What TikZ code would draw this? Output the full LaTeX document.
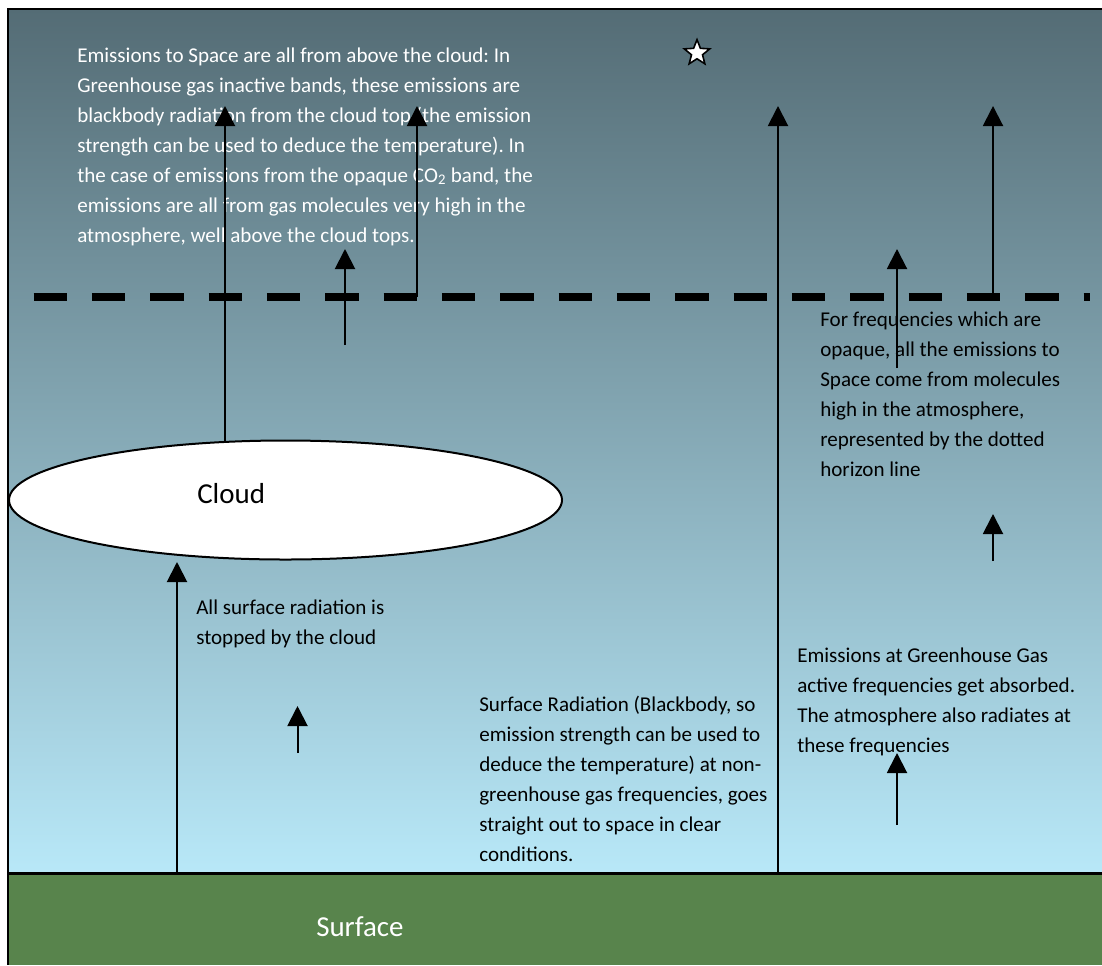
\documentclass[tikz,border=0pt]{standalone}
\usepackage{fontspec}
\setmainfont{Carlito}
\frenchspacing
\usetikzlibrary{arrows.meta,shapes.geometric}
\definecolor{skytop}{RGB}{84,108,117}
\definecolor{skybottom}{RGB}{184,232,248}
\definecolor{grass}{RGB}{88,132,76}

\begin{document}
\begin{tikzpicture}[x=0.75pt, y=-0.75pt,
    ray/.style={line width=1.5pt, -{Triangle[width=15pt,length=15pt]}},
    note/.style={anchor=base west, inner sep=0pt, align=left, font=\fontsize{15.8}{22.5}\selectfont},
    bigword/.style={anchor=base west, inner sep=0pt, font=\fontsize{21.7}{26}\selectfont}]
	\useasboundingbox (0,0) rectangle (1102,965);
	% sky and ground
	\shade[top color=skytop, bottom color=skybottom] (8,9) rectangle (1102,873);
	\fill[grass] (8,873) rectangle (1102,965);
	\draw[line width=1.5pt] (1102,9) -- (8,9) -- (8,965);
	\draw[line width=2.25pt] (8,873) -- (1102,873);
	% texts (placed by the baseline of their last line)
	\node[note, text=white] (spacenote) at (77,242) {Emissions to Space are all from above the cloud: In\\
		Greenhouse gas inactive bands, these emissions are\\
		blackbody radiation from the cloud top (the emission\\
		strength can be used to deduce the temperature). In\\
		the case of emissions from the opaque CO\textsubscript{2} band, the\\
		emissions are all from gas molecules very high in the\\
		atmosphere, well above the cloud tops.};
	\node[note] (opaquenote) at (820,476) {For frequencies which are\\
		opaque, all the emissions to\\
		Space come from molecules\\
		high in the atmosphere,\\
		represented by the dotted\\
		horizon line};
	\node[note] (stopnote) at (196,644) {All surface radiation is\\
		stopped by the cloud};
	\node[note] (clearnote) at (479,861) {Surface Radiation (Blackbody, so\\
		emission strength can be used to\\
		deduce the temperature) at non-\\
		greenhouse gas frequencies, goes\\
		straight out to space in clear\\
		conditions.};
	\node[note] (ghgnote) at (797,752) {Emissions at Greenhouse Gas\\
		active frequencies get absorbed.\\
		The atmosphere also radiates at\\
		these frequencies};
	\node[bigword, text=white] (surface) at (316,936) {Surface};
	% cloud and star
	\node[ellipse, draw, fill=white, line width=1.5pt, inner sep=0pt,
		minimum width=414.75pt, minimum height=89.25pt] (cloud) at (285.5,500) {};
	\node[bigword] (cloudlabel) at (197,503) {Cloud};
	\node[star, star points=5, star point ratio=2.3, draw, fill=white, line width=1.2pt,
		inner sep=0pt, minimum size=20pt] (star) at (697,53) {};
	% horizon
	\coordinate (horizonW) at (33.5,297);
	\coordinate (horizonE) at (1090,297);
	\draw[line width=6pt, dash pattern=on 25pt off 18.75pt] (horizonW) -- (horizonE);
	% rays
	\coordinate (cloudtop) at (225,442);
	\coordinate (cloudtopend) at (225,106);
	\coordinate (midA) at (345,345);
	\coordinate (midAend) at (345,249);
	\coordinate (horizonA) at (417,297);
	\coordinate (horizonAend) at (417,106);
	\coordinate (groundB) at (778,873);
	\coordinate (groundBend) at (778,106);
	\coordinate (horizonC) at (993,297);
	\coordinate (horizonCend) at (993,106);
	\coordinate (midC) at (897,368);
	\coordinate (midCend) at (897,249);
	\coordinate (lowC) at (993,561);
	\coordinate (lowCend) at (993,514);
	\coordinate (lowD) at (897,825);
	\coordinate (lowDend) at (897,753);
	\coordinate (lowA) at (297.5,753);
	\coordinate (lowAend) at (297.5,706);
	\coordinate (groundA) at (177,873);
	\coordinate (groundAend) at (177,562);
	\draw[ray] (cloudtop) -- (cloudtopend);
	\draw[ray] (midA) -- (midAend);
	\draw[ray] (horizonA) -- (horizonAend);
	\draw[ray] (groundB) -- (groundBend);
	\draw[ray] (horizonC) -- (horizonCend);
	\draw[ray] (midC) -- (midCend);
	\draw[ray] (lowC) -- (lowCend);
	\draw[ray] (lowD) -- (lowDend);
	\draw[ray] (lowA) -- (lowAend);
	\draw[ray] (groundA) -- (groundAend);
\end{tikzpicture}
\end{document}
